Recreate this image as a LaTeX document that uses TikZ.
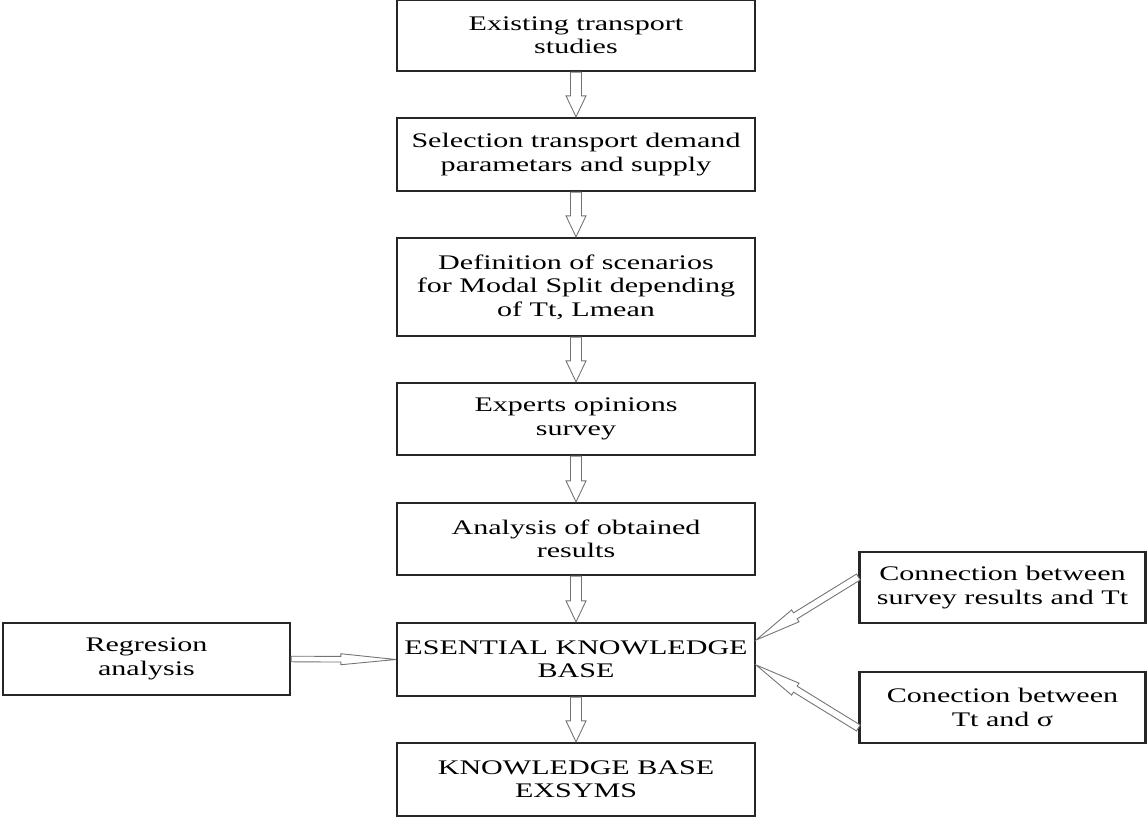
\documentclass[tikz,border=0pt]{standalone}
\usepackage{fontspec}
\setmainfont{Liberation Serif}[FakeStretch=1.45]
\usepackage{tikz}
\usetikzlibrary{calc}

% hollow arrow: #1 from, #2 to, #3 half shaft width, #4 half head width, #5 head length
\newcommand{\hollowarrow}[5]{%
  \coordinate (hb) at ($(#2)!#5!(#1)$);
  \draw [arrowline] ($(#1)!#3!90:(#2)$) -- ($(hb)!#3!90:(#2)$)
    -- ($(hb)!#4!90:(#2)$) -- (#2) -- ($(hb)!#4!-90:(#2)$)
    -- ($(hb)!#3!-90:(#2)$) -- ($(#1)!#3!-90:(#2)$) -- cycle;%
}

\tikzset{
  stepbox/.style={draw=black!85, line width=1.3pt, align=center, inner sep=2pt,
    font=\fontsize{11.8}{13.3}\selectfont},
  mainbox/.style={stepbox, minimum width=7.16cm},
  sidebox/.style={stepbox, minimum width=5.72cm, minimum height=1.43cm},
  arrowline/.style={draw=black!55, line width=0.5pt, fill=white}
}

\begin{document}
\begin{tikzpicture}
                \useasboundingbox (0,0) rectangle (22.96,16.40);

                % Main column of steps
                \node (exist) at (11.52,15.69) [mainbox, minimum height=1.42cm] {Existing transport\\studies};
                \node (select) at (11.52,13.31) [mainbox, minimum height=1.46cm] {Selection transport demand\\parametars and supply};
                \node (scen) at (11.52,10.66) [mainbox, minimum height=1.96cm] {Definition of scenarios\\for Modal Split depending\\of Tt, Lmean};
                \node (survey) at (11.52,8.02) [mainbox, minimum height=1.44cm] {Experts opinions\\survey};
                \node (analysis) at (11.52,5.62) [mainbox, minimum height=1.44cm] {Analysis of obtained\\results};
                \node (ekb) at (11.52,3.21) [mainbox, minimum height=1.46cm] {ESENTIAL KNOWLEDGE\\BASE};
                \node (kb) at (11.52,0.81) [mainbox, minimum height=1.46cm] {KNOWLEDGE BASE\\EXSYMS};

                % Side inputs
                \node (regr) at (2.93,3.22) [sidebox, minimum width=5.74cm] {Regresion\\analysis};
                \node (conn1) at (20.05,4.65) [sidebox] {Connection between\\survey results and Tt};
                \node (conn2) at (20.05,2.25) [sidebox] {Conection between\\Tt and σ};

                % Downward arrows
                \hollowarrow{exist.south}{select.north}{0.11cm}{0.2cm}{0.42cm}
                \hollowarrow{select.south}{scen.north}{0.11cm}{0.2cm}{0.42cm}
                \hollowarrow{scen.south}{survey.north}{0.11cm}{0.2cm}{0.42cm}
                \hollowarrow{survey.south}{analysis.north}{0.11cm}{0.2cm}{0.42cm}
                \hollowarrow{analysis.south}{ekb.north}{0.11cm}{0.2cm}{0.42cm}
                \hollowarrow{ekb.south}{kb.north}{0.11cm}{0.2cm}{0.42cm}

                % Arrow from regression
                \hollowarrow{regr.east}{ekb.west}{0.056cm}{0.11cm}{1.1cm}

                % Arrows from the two connection boxes
                \coordinate (c1tail) at ([yshift=0.21cm]conn1.west);
                \coordinate (c1tip) at ([yshift=0.39cm]ekb.east);
                \coordinate (c2tail) at ([yshift=-0.41cm]conn2.west);
                \coordinate (c2tip) at ([yshift=-0.11cm]ekb.east);
                \hollowarrow{c1tail}{c1tip}{0.07cm}{0.14cm}{0.92cm}
                \hollowarrow{c2tail}{c2tip}{0.07cm}{0.14cm}{0.92cm}
\end{tikzpicture}
\end{document}
